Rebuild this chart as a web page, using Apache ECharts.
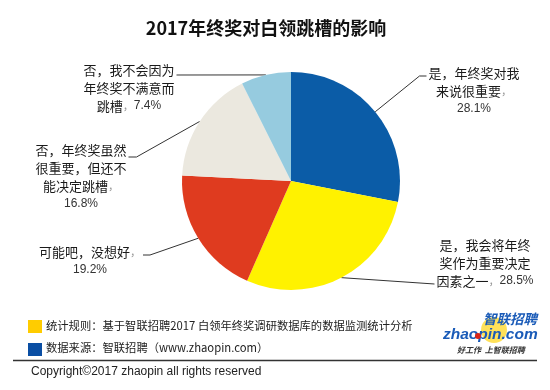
<!DOCTYPE html>
<html>
<head>
<meta charset="utf-8">
<script src="https://cdn.jsdelivr.net/npm/echarts@6/dist/echarts.min.js"></script>
<style>
  html, body { margin: 0; padding: 0; background: #fff; }
  #main { width: 550px; height: 390px; }
</style>
</head>
<body>
<div id="main"></div>
<script>
// 数据
var titleText = '2017年终奖对白领跳槽的影响';
var names = [
  '是，年终奖对我来说很重要',
  '是，我会将年终奖作为重要决定因素之一',
  '可能吧，没想好',
  '否，年终奖虽然很重要，但还不能决定跳槽',
  '否，我不会因为年终奖不满意而跳槽'
];
// 标签换行
var labelLines = [
  '是，年终奖对我\n来说很重要',
  '是，我会将年终\n奖作为重要决定\n因素之一',
  '可能吧，没想好',
  '否，年终奖虽然\n很重要，但还不\n能决定跳槽',
  '否，我不会因为\n年终奖不满意而\n跳槽'
];
// 百分比后是否换行
var pctNewLine = [true, false, true, true, false];
var values = [28.1, 28.5, 19.2, 16.8, 7.4];
var colors = ['#0b5ca7', '#fff200', '#df3b1f', '#ebe8df', '#96cbdf'];

var noteRule = '统计规则：基于智联招聘2017 白领年终奖调研数据库的数据监测统计分析';
var noteSource = '数据来源：智联招聘（www.zhaopin.com）';
var copyright = 'Copyright©2017 zhaopin all rights reserved';

// 标签位置（中心x，顶部y，连线一侧，连线y偏移，拐点偏移）
var labelPos = [
  { cx: 474, top: 64, side: 'left', dy: 12, bend: -7 },
  { cx: 485, top: 236, side: 'left', dy: 48, bend: 0 },
  { cx: 90, top: 243, side: 'right', dy: 12, bend: 7 },
  { cx: 81, top: 141, side: 'right', dy: 16, bend: 8 },
  { cx: 129, top: 61, side: 'right', dy: 14, bend: 0 }
];

var chart = echarts.init(document.getElementById('main'));

var pieData = [];
for (var i = 0; i < names.length; i++) {
  pieData.push({ name: names[i], value: values[i], itemStyle: { color: colors[i] } });
}

var textFont = '"Noto Sans CJK SC", sans-serif';

chart.setOption({
  animation: false,
  title: {
    text: titleText,
    left: 261,
    textAlign: 'center',
    top: 14,
    textStyle: { fontSize: 18, fontWeight: 'bold', color: '#111', fontFamily: textFont }
  },
  series: [
    {
      type: 'pie',
      center: [291, 181],
      radius: 109,
      startAngle: 90,
      clockwise: true,
      silent: true,
      data: pieData,
      label: {
        show: true,
        position: 'outside',
        fontFamily: textFont,
        fontSize: 13,
        lineHeight: 18,
        color: '#1a1a1a',
        align: 'center',
        formatter: function (p) {
          var i = p.dataIndex;
          return labelLines[i] + '{s|，}' + (pctNewLine[i] ? '\n' : '') + '{p|' + p.value.toFixed(1) + '%}';
        },
        rich: {
          s: { color: '#999', fontSize: 11, fontFamily: textFont, lineHeight: 18 },
          p: { color: '#333', fontSize: 12, fontFamily: 'Liberation Sans, sans-serif', lineHeight: 18 }
        }
      },
      labelLine: {
        show: true,
        length: 15,
        length2: 10,
        lineStyle: { color: '#333', width: 1 }
      },
      labelLayout: function (params) {
        var cfg = labelPos[params.dataIndex];
        var w = params.labelRect.width;
        var left = cfg.cx - w / 2;
        var endX = cfg.side === 'left' ? left - 2 : left + w + 2;
        var endY = cfg.top + cfg.dy;
        var pts = params.labelLinePoints;
        var start = pts ? pts[0] : [endX, endY];
        return {
          x: cfg.cx,
          y: cfg.top,
          align: 'center',
          verticalAlign: 'top',
          labelLinePoints: [start, [endX + cfg.bend, endY], [endX, endY]]
        };
      }
    }
  ],
  graphic: [
    { type: 'rect', shape: { x: 28, y: 320, width: 14, height: 13 }, style: { fill: '#ffcc00' } },
    { type: 'rect', shape: { x: 28, y: 343, width: 14, height: 13 }, style: { fill: '#0a4ea3' } },
    {
      type: 'text', left: 46, top: 320,
      style: { text: noteRule, fill: '#222', font: '11.3px ' + textFont }
    },
    {
      type: 'text', left: 46, top: 342,
      style: { text: noteSource, fill: '#222', font: '11.3px ' + textFont }
    },
    { type: 'line', shape: { x1: 13, y1: 360.5, x2: 537, y2: 360.5 }, style: { stroke: '#333', lineWidth: 1.5 } },
    {
      type: 'text', left: 31, top: 366,
      style: { text: copyright, fill: '#222', font: '12px "Liberation Sans", sans-serif' }
    },
    // logo
    { type: 'circle', shape: { cx: 494, cy: 330, r: 13 }, style: { fill: '#ffdc3c', opacity: 0.85 } },
    {
      type: 'text', left: 483, top: 312,
      style: { text: '智联招聘', fill: '#1a5bb8', font: 'italic bold 13.5px ' + textFont }
    },
    {
      type: 'text', left: 443, top: 327,
      style: { text: 'zhaopin.com', fill: '#1a5bb8', font: 'italic bold 15.5px "Liberation Sans", sans-serif' }
    },
    { type: 'circle', shape: { cx: 478, cy: 336, r: 3 }, style: { fill: '#d8261a' } },
    {
      type: 'text', left: 457, top: 346,
      style: { text: '好工作  上智联招聘', fill: '#333', font: 'italic bold 8px ' + textFont }
    }
  ]
});
</script>
</body>
</html>
